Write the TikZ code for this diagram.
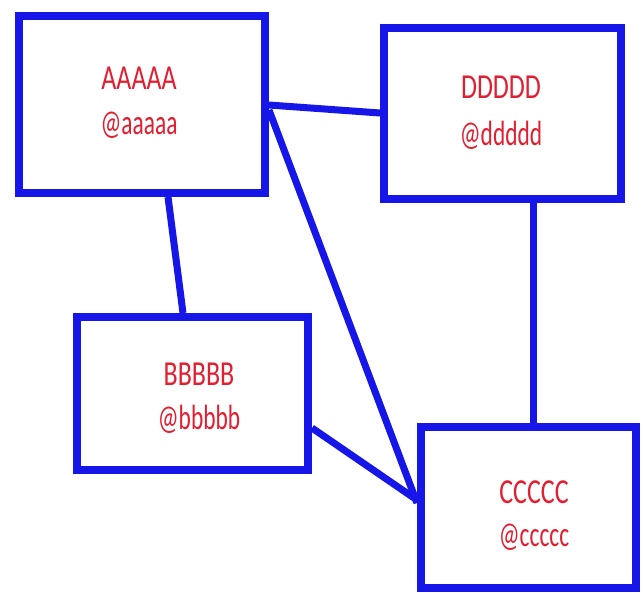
\documentclass[tikz,border=0pt]{standalone}
\usepackage{fontspec}
\setmainfont{Carlito}
\definecolor{boxblue}{RGB}{22,22,232}
\definecolor{txtred}{RGB}{226,30,48}
\begin{document}
\begin{tikzpicture}[x=1pt,y=-1pt,
  box/.style={draw=boxblue,line width=8pt,fill=white,inner sep=0pt,rectangle},
  lbl/.style={text=txtred,inner sep=0pt,font=\fontsize{26}{30}\selectfont},
  link/.style={draw=boxblue,line width=7pt}]
\useasboundingbox (0,0) rectangle (644,592);
\fill[white] (0,0) rectangle (644,592);
\node[box,minimum width=246pt,minimum height=177pt] (A) at (142,104.5) {};
\node[box,minimum width=237pt,minimum height=171pt] (D) at (502.5,113.5) {};
\node[box,minimum width=231pt,minimum height=153pt] (B) at (192.5,393.5) {};
\node[box,minimum width=215pt,minimum height=161pt] (C) at (528.5,507.5) {};
\draw[link] ([xshift=153pt]A.south west) -- ([xshift=110pt]B.north west);
\draw[link] ([yshift=-93pt]A.north east) -- ([yshift=-89pt]D.north west);
\draw[link] ([yshift=-98pt]A.north east) -- ([yshift=-80pt]C.north west);
\draw[link] ([yshift=-115pt]B.north east) -- ([yshift=-77pt]C.north west);
\draw[link] ([xshift=153pt]D.south west) -- ([xshift=116pt]C.north west);
% labels
\node[lbl] (an) at (139,78) {\scalebox{1}[1.35]{AAAAA}};
\node[lbl] (ah) at (139,125) {\scalebox{0.9}[1.35]{@aaaaa}};
\node[lbl] (dn) at (501,87) {\scalebox{1}[1.35]{DDDDD}};
\node[lbl] (dh) at (501,135) {\scalebox{0.9}[1.35]{@ddddd}};
\node[lbl] (bn) at (199,374) {\scalebox{1}[1.35]{BBBBB}};
\node[lbl] (bh) at (199,419) {\scalebox{0.9}[1.35]{@bbbbb}};
\node[lbl] (cn) at (534,492) {\scalebox{1}[1.35]{CCCCC}};
\node[lbl] (ch) at (534,537) {\scalebox{0.9}[1.35]{@ccccc}};
\end{tikzpicture}
\end{document}
